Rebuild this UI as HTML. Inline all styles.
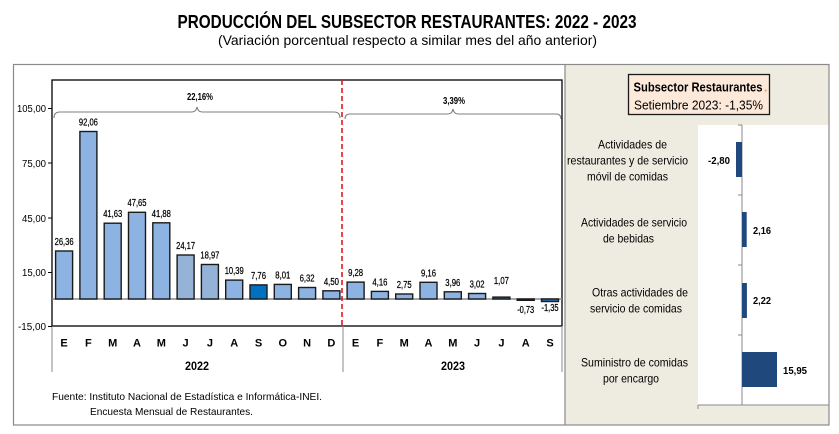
<!DOCTYPE html>
<html><head><meta charset="utf-8"><style>
html,body{margin:0;padding:0;background:#fff;}
svg{display:block;font-family:"Liberation Sans",Arial,sans-serif;}
</style></head><body>
<svg width="839" height="434" viewBox="0 0 839 434" xmlns="http://www.w3.org/2000/svg">
<rect x="0" y="0" width="839" height="434" fill="#fff"/>
<!-- titles -->
<text x="407" y="28" font-size="18" font-weight="bold" text-anchor="middle" textLength="459" lengthAdjust="spacingAndGlyphs">PRODUCCIÓN DEL SUBSECTOR RESTAURANTES: 2022 - 2023</text>
<text x="407.5" y="45" font-size="14" text-anchor="middle" textLength="379" lengthAdjust="spacingAndGlyphs">(Variación porcentual respecto a similar mes del año anterior)</text>

<!-- right panel -->
<rect x="565" y="64" width="264" height="361" fill="#EEECE1"/>
<rect x="698" y="125" width="131" height="280" fill="#fff"/>
<!-- outer frame -->
<rect x="13.5" y="64.5" width="815.5" height="360.5" fill="none" stroke="#8a8a8a" stroke-width="1.2"/>
<line x1="565" y1="64" x2="565" y2="425" stroke="#8a8a8a" stroke-width="1.2"/>

<!-- left plot box -->
<rect x="52" y="80" width="510" height="246" fill="none" stroke="#000" stroke-width="1.3"/>
<line x1="52" y1="326" x2="52" y2="372" stroke="#8a8a8a" stroke-width="1"/>
<line x1="343" y1="326" x2="343" y2="372" stroke="#8a8a8a" stroke-width="1"/>
<line x1="562" y1="326" x2="562" y2="372" stroke="#8a8a8a" stroke-width="1"/>
<!-- y ticks -->
<g stroke="#000" stroke-width="1">
<line x1="48" y1="108.5" x2="52" y2="108.5"/>
<line x1="48" y1="163" x2="52" y2="163"/>
<line x1="48" y1="218" x2="52" y2="218"/>
<line x1="48" y1="272.5" x2="52" y2="272.5"/>
<line x1="48" y1="326.5" x2="52" y2="326.5"/>
</g>
<g font-size="10" text-anchor="end" fill="#000">
<text x="46" y="112" textLength="29" lengthAdjust="spacingAndGlyphs">105,00</text>
<text x="46" y="167" textLength="24" lengthAdjust="spacingAndGlyphs">75,00</text>
<text x="46" y="222" textLength="24" lengthAdjust="spacingAndGlyphs">45,00</text>
<text x="46" y="276" textLength="24" lengthAdjust="spacingAndGlyphs">15,00</text>
<text x="46" y="330" textLength="28" lengthAdjust="spacingAndGlyphs">-15,00</text>
</g>
<!-- zero line -->
<line x1="52" y1="299" x2="562" y2="299" stroke="#8a8a8a" stroke-width="1.5"/>

<!-- bars -->
<g stroke="#1a1a1a" stroke-width="1.4">
<rect x="55.6" y="251" width="17" height="48" fill="#8DB3E2"/>
<rect x="79.9" y="131.5" width="17" height="167.5" fill="#8DB3E2"/>
<rect x="104.2" y="223.2" width="17" height="75.8" fill="#8DB3E2"/>
<rect x="128.5" y="212.3" width="17" height="86.7" fill="#8DB3E2"/>
<rect x="152.8" y="222.8" width="17" height="76.2" fill="#8DB3E2"/>
<rect x="177.1" y="255" width="17" height="44" fill="#95B3D7"/>
<rect x="201.4" y="264.5" width="17" height="34.5" fill="#95B3D7"/>
<rect x="225.7" y="280.1" width="17" height="18.9" fill="#8DB3E2"/>
<rect x="250" y="284.9" width="17" height="14.1" fill="#0070C0"/>
<rect x="274.3" y="284.4" width="17" height="14.6" fill="#8DB3E2"/>
<rect x="298.6" y="287.5" width="17" height="11.5" fill="#8DB3E2"/>
<rect x="322.9" y="290.8" width="17" height="8.2" fill="#8DB3E2"/>
<rect x="347.1" y="282.1" width="17" height="16.9" fill="#8DB3E2"/>
<rect x="371.4" y="291.4" width="17" height="7.6" fill="#8DB3E2"/>
<rect x="395.7" y="294" width="17" height="5" fill="#8DB3E2"/>
<rect x="420" y="282.3" width="17" height="16.7" fill="#8DB3E2"/>
<rect x="444.3" y="291.8" width="17" height="7.2" fill="#8DB3E2"/>
<rect x="468.6" y="293.5" width="17" height="5.5" fill="#8DB3E2"/>
<rect x="492.9" y="297.1" width="17" height="1.9" fill="#4a6a90"/>
<rect x="517.2" y="299" width="17" height="1.3" fill="#2E75B6"/>
<rect x="541.5" y="299" width="17" height="2.5" fill="#2E75B6"/>
</g>

<!-- bar value labels -->
<g font-size="10" text-anchor="middle" fill="#000" stroke="#000" stroke-width="0.25">
<text x="64.1" y="245" textLength="19" lengthAdjust="spacingAndGlyphs">26,36</text>
<text x="88.4" y="125.5" textLength="19" lengthAdjust="spacingAndGlyphs">92,06</text>
<text x="112.7" y="217" textLength="19" lengthAdjust="spacingAndGlyphs">41,63</text>
<text x="137" y="206" textLength="19" lengthAdjust="spacingAndGlyphs">47,65</text>
<text x="161.3" y="217" textLength="19" lengthAdjust="spacingAndGlyphs">41,88</text>
<text x="185.6" y="249" textLength="19" lengthAdjust="spacingAndGlyphs">24,17</text>
<text x="209.9" y="258.5" textLength="19" lengthAdjust="spacingAndGlyphs">18,97</text>
<text x="234.2" y="274" textLength="19" lengthAdjust="spacingAndGlyphs">10,39</text>
<text x="258.5" y="279" textLength="15" lengthAdjust="spacingAndGlyphs">7,76</text>
<text x="282.8" y="278.5" textLength="15" lengthAdjust="spacingAndGlyphs">8,01</text>
<text x="307.1" y="281.5" textLength="15" lengthAdjust="spacingAndGlyphs">6,32</text>
<text x="331.4" y="285" textLength="15" lengthAdjust="spacingAndGlyphs">4,50</text>
<text x="355.6" y="276" textLength="15" lengthAdjust="spacingAndGlyphs">9,28</text>
<text x="379.9" y="285.5" textLength="15" lengthAdjust="spacingAndGlyphs">4,16</text>
<text x="404.2" y="288" textLength="15" lengthAdjust="spacingAndGlyphs">2,75</text>
<text x="428.5" y="276.5" textLength="15" lengthAdjust="spacingAndGlyphs">9,16</text>
<text x="452.8" y="286" textLength="15" lengthAdjust="spacingAndGlyphs">3,96</text>
<text x="477.1" y="287.5" textLength="15" lengthAdjust="spacingAndGlyphs">3,02</text>
<text x="501.4" y="284" textLength="15" lengthAdjust="spacingAndGlyphs">1,07</text>
<text x="525.7" y="313" textLength="17" lengthAdjust="spacingAndGlyphs">-0,73</text>
<text x="550" y="311" textLength="17" lengthAdjust="spacingAndGlyphs">-1,35</text>
</g>

<!-- red dashed separator -->
<line x1="342" y1="80" x2="342" y2="326" stroke="#E0181E" stroke-width="1.6" stroke-dasharray="5,3"/>

<!-- braces -->
<g fill="none" stroke="#7f7f7f" stroke-width="1.1">
<path d="M54,118 Q54,112 60,112 L192,112 Q196,112 197,107 Q198,112 202,112 L334,112 Q340,112 340,118"/>
<path d="M345,119 Q345,114 350,114 L448,114 Q452,114 453,109 Q454,114 458,114 L556,114 Q561,114 561,119"/>
</g>
<text x="200" y="100" font-size="10" font-weight="bold" text-anchor="middle" textLength="26" lengthAdjust="spacingAndGlyphs">22,16%</text>
<text x="454" y="104" font-size="10" font-weight="bold" text-anchor="middle" textLength="22" lengthAdjust="spacingAndGlyphs">3,39%</text>

<!-- category labels -->
<g font-size="11" font-weight="bold" text-anchor="middle" fill="#000">
<text x="64.1" y="346.5">E</text>
<text x="88.4" y="346.5">F</text>
<text x="112.7" y="346.5">M</text>
<text x="137" y="346.5">A</text>
<text x="161.3" y="346.5">M</text>
<text x="185.6" y="346.5">J</text>
<text x="209.9" y="346.5">J</text>
<text x="234.2" y="346.5">A</text>
<text x="258.5" y="346.5">S</text>
<text x="282.8" y="346.5">O</text>
<text x="307.1" y="346.5">N</text>
<text x="331.4" y="346.5">D</text>
<text x="355.6" y="346.5">E</text>
<text x="379.9" y="346.5">F</text>
<text x="404.2" y="346.5">M</text>
<text x="428.5" y="346.5">A</text>
<text x="452.8" y="346.5">M</text>
<text x="477.1" y="346.5">J</text>
<text x="501.4" y="346.5">J</text>
<text x="525.7" y="346.5">A</text>
<text x="550" y="346.5">S</text>
<text x="197" y="370" font-size="12" textLength="24" lengthAdjust="spacingAndGlyphs">2022</text>
<text x="453" y="370" font-size="12" textLength="24" lengthAdjust="spacingAndGlyphs">2023</text>
</g>

<!-- source -->
<text x="52" y="400" font-size="10.5" textLength="270" lengthAdjust="spacingAndGlyphs">Fuente: Instituto Nacional de Estadística e Informática-INEI.</text>
<text x="90" y="415" font-size="10.5" textLength="163" lengthAdjust="spacingAndGlyphs">Encuesta Mensual de  Restaurantes.</text>

<!-- right panel box -->
<rect x="628.5" y="74.5" width="141" height="40" fill="#FDE9D9" stroke="#1a1a1a" stroke-width="1.3"/>
<text x="698" y="91.5" font-size="13" font-weight="bold" text-anchor="middle" textLength="129" lengthAdjust="spacingAndGlyphs">Subsector Restaurantes</text>
<text x="764" y="91.5" font-size="12" font-weight="bold" fill="#F79646">.</text>
<text x="698.5" y="109.5" font-size="13" text-anchor="middle" textLength="129" lengthAdjust="spacingAndGlyphs">Setiembre 2023: -1,35%</text>

<!-- right axes -->
<line x1="698" y1="405" x2="829" y2="405" stroke="#8a8a8a" stroke-width="1"/>
<line x1="742" y1="125" x2="742" y2="405" stroke="#8a8a8a" stroke-width="1"/>
<g stroke="#8a8a8a" stroke-width="1">
<line x1="738" y1="125" x2="742" y2="125"/>
<line x1="738" y1="195" x2="742" y2="195"/>
<line x1="738" y1="265" x2="742" y2="265"/>
<line x1="738" y1="335" x2="742" y2="335"/>
<line x1="738" y1="405" x2="742" y2="405"/>
<line x1="698" y1="405" x2="698" y2="409"/>
</g>
<!-- right bars -->
<g fill="#1F497D">
<rect x="736" y="142" width="6" height="35"/>
<rect x="742" y="212" width="4.7" height="35"/>
<rect x="742" y="283" width="4.9" height="35"/>
<rect x="742" y="352" width="35" height="35"/>
</g>
<g font-size="10.5" font-weight="bold" fill="#000">
<text x="730" y="164" text-anchor="end" textLength="22" lengthAdjust="spacingAndGlyphs">-2,80</text>
<text x="753" y="234" textLength="18" lengthAdjust="spacingAndGlyphs">2,16</text>
<text x="753" y="304" textLength="18" lengthAdjust="spacingAndGlyphs">2,22</text>
<text x="783" y="374" textLength="24" lengthAdjust="spacingAndGlyphs">15,95</text>
</g>
<!-- right category labels -->
<g font-size="12" text-anchor="middle" fill="#000">
<text x="632.5" y="148.5" textLength="69" lengthAdjust="spacingAndGlyphs">Actividades de</text>
<text x="627.5" y="164.5" textLength="121" lengthAdjust="spacingAndGlyphs">restaurantes y de servicio</text>
<text x="627.5" y="180.5" textLength="81" lengthAdjust="spacingAndGlyphs">móvil de comidas</text>
<text x="634" y="226.5" textLength="106" lengthAdjust="spacingAndGlyphs">Actividades de servicio</text>
<text x="628.5" y="242.5" textLength="51" lengthAdjust="spacingAndGlyphs">de bebidas</text>
<text x="640" y="296.5" textLength="96" lengthAdjust="spacingAndGlyphs">Otras actividades de</text>
<text x="636" y="312.5" textLength="92" lengthAdjust="spacingAndGlyphs">servicio de comidas</text>
<text x="634.5" y="366.5" textLength="107" lengthAdjust="spacingAndGlyphs">Suministro de comidas</text>
<text x="631" y="382.5" textLength="56" lengthAdjust="spacingAndGlyphs">por encargo</text>
</g>
</svg>
</body></html>
